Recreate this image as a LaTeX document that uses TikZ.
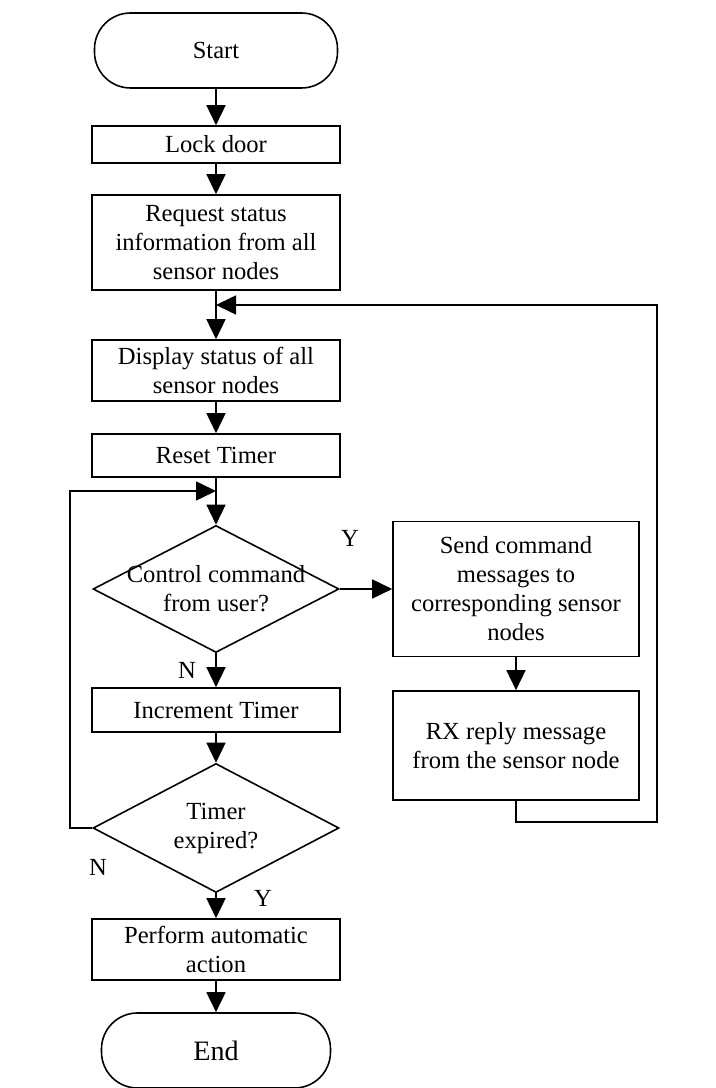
\documentclass[tikz,border=0pt]{standalone}
\usepackage{fontspec}
\setmainfont{Liberation Serif}
\usetikzlibrary{shapes.geometric,arrows.meta}

\begin{document}
\begin{tikzpicture}[
  font=\fontsize{14}{16.5}\selectfont,
  line width=0.9pt,
  box/.style={draw, minimum width=4.96cm, align=center, inner sep=2pt},
  term/.style={draw, rounded corners=0.72cm, minimum width=4.86cm, minimum height=1.5cm},
  decision/.style={draw, diamond, minimum width=4.92cm, minimum height=2.54cm, inner sep=0pt},
  arr/.style={-{Triangle[length=0.4cm,width=0.38cm]}},
  yn/.style={inner sep=0pt}
]
\useasboundingbox (0,0) rectangle (14.32,21.76);

% main column
\node[term] (start) at (4.32,20.75) {Start};
\node[box, minimum height=0.74cm] (lock) at (4.32,18.87) {Lock door};
\node[box, minimum height=1.9cm] (req) at (4.32,16.91) {Request status\\information from all\\sensor nodes};
\node[box, minimum height=1.22cm] (disp) at (4.32,14.35) {Display status of all\\sensor nodes};
\node[box, minimum height=0.86cm] (reset) at (4.32,12.65) {Reset Timer};
\node[decision, label={[name=ctrltxt, align=center]center:{Control command\\from user?}}] (ctrl) at (4.32,9.98) {};
\node[box, minimum height=0.88cm] (inc) at (4.32,7.56) {Increment Timer};
\node[decision, minimum height=2.58cm, label={[name=timtxt, align=center]center:{Timer\\expired?}}] (timer) at (4.32,5.2) {};
\node[box, minimum height=1.22cm] (perform) at (4.32,2.77) {Perform automatic\\action};
\node[term, minimum width=4.58cm, font=\fontsize{16}{19}\selectfont] (end) at (4.32,0.75) {End};

% right branch
\node[box, minimum width=4.92cm, minimum height=2.7cm] (send) at (10.32,9.98) {Send command\\messages to\\corresponding sensor\\nodes};
\node[box, minimum width=4.92cm, minimum height=2.18cm] (rx) at (10.32,6.85) {RX reply message\\from the sensor node};

% loop points
\coordinate (j1) at (4.32,15.66);
\coordinate (j2) at (4.32,11.94);
\coordinate (rloop) at (13.14,5.32);
\coordinate (lloop) at (1.4,11.94);

\draw[arr] (start) -- (lock);
\draw[arr] (lock) -- (req);
\draw[arr] (req) -- (disp);
\draw[arr] (disp) -- (reset);
\draw[arr] (reset) -- (ctrl);
\draw[arr] (ctrl) -- (inc);
\draw[arr] (inc) -- (timer);
\draw[arr] (timer) -- (perform);
\draw[arr] (perform) -- (end);
\draw[arr] (ctrl) -- (send);
\draw[arr] (send) -- (rx);
\draw[arr] (rx) |- (rloop) |- (j1);
\draw[arr] (timer) -| (lloop) -- (j2);

% branch labels
\node[yn] (ycmd) at (7.0,11.0) {Y};
\node[yn] (ncmd) at (3.74,8.36) {N};
\node[yn] (ntim) at (1.96,4.42) {N};
\node[yn] (ytim) at (5.26,3.8) {Y};
\end{tikzpicture}
\end{document}
